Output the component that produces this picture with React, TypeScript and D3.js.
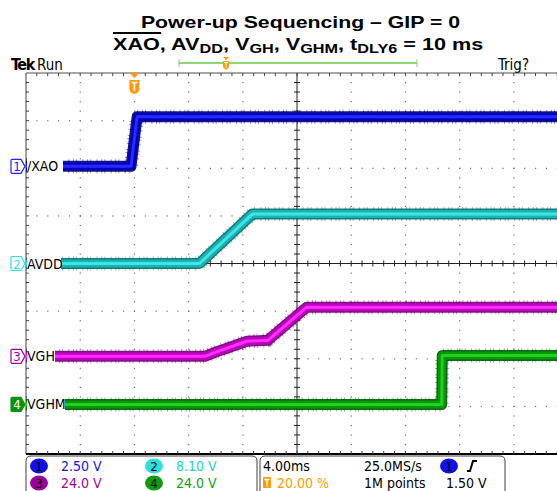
import React, { useLayoutEffect, useRef, useState } from "react";
import * as d3 from "d3";

// ---- data (time in ms, volts) ----
const xaoT = [-8, -0.25, 0.2, 32];
const xaoV = [0, 0, 2.6, 2.6];
const avddT = [-8, 4.8, 8.7, 32];
const avddV = [0, 0, 8.4, 8.4];
const vghT = [-8, 5.2, 5.95, 8.3, 9.85, 12.7, 32];
const vghV = [0, 0, 2.0, 7.6, 8.1, 24.7, 24.7];
const vghmT = [-8, 22.68, 22.72, 32];
const vghmV = [0, 0, 24.7, 24.7];

const chNames = ["/XAO", "AVDD", "VGH", "VGHM"];
const chVoltsPerDiv = [2.5, 8.1, 24.0, 24.0];
const chVoltsLabel = ["2.50 V", "8.10 V", "24.0 V", "24.0 V"];
const chOffsetDiv = [2.04, 0, -1.95, -2.96];

const timePerDiv = "4.00ms";
const sampleRate = "25.0MS/s";
const recordLen = "1M points";
const trigPos = "20.00 %";
const trigLevel = "1.50 V";

const L = 26, T = 73, DW = 54.2, DH = 47.625;
const W = 557, H = 491;

const colors = [
  { outer: "#00006e", mid: "#0000c0", inner: "#2a2aff", text: "#1414e6" },
  { outer: "#006e6e", mid: "#18b4b4", inner: "#40e6e6", text: "#20d0d0" },
  { outer: "#6e006e", mid: "#c000c0", inner: "#ff30ff", text: "#a000a0" },
  { outer: "#005500", mid: "#009a00", inner: "#20d020", text: "#10a010" },
];
const markerFill = ["#2020ff", "#30e0e0", "#a000a0", "#109010"];

export default function App() {
  const x = d3.scaleLinear().domain([-8, 32]).range([L, L + 10 * DW]);
  const y = d3.scaleLinear().domain([-4, 4]).range([T + 8 * DH, T]);
  const series = [
    [xaoT, xaoV],
    [avddT, avddV],
    [vghT, vghV],
    [vghmT, vghmV],
  ];
  const line = d3
    .line<[number, number]>()
    .x((d) => x(d[0]))
    .y((d) => y(d[1]));

  const textRef = useRef<SVGTextElement>(null);
  const [ov, setOv] = useState<[number, number] | null>(null);
  useLayoutEffect(() => {
    const t = textRef.current;
    if (t) {
      const p = t.getStartPositionOfChar(0).x;
      const w = t.getSubStringLength(0, 3);
      setOv([p, p + w]);
    }
  }, []);

  const xRight = L + 10 * DW;
  const yBottom = T + 8 * DH;
  const cx = L + 5 * DW;
  const cy = T + 4 * DH;

  // grid dots
  const dots: JSX.Element[] = [];
  for (let i = 1; i < 10; i++) {
    if (i === 5) continue;
    const gx = L + i * DW;
    for (let k = 1; k < 40; k++) {
      const gy = T + (k * DH) / 5;
      dots.push(<rect key={`v${i}-${k}`} x={gx - 0.5} y={gy - 0.5} width={1.2} height={1.2} fill="#707070" />);
    }
  }
  for (let j = 1; j < 8; j++) {
    if (j === 4) continue;
    const gy = T + j * DH;
    for (let k = 1; k < 50; k++) {
      const gx = L + (k * DW) / 5;
      dots.push(<rect key={`h${j}-${k}`} x={gx - 0.5} y={gy - 0.5} width={1.2} height={1.2} fill="#707070" />);
    }
  }
  const ticks: JSX.Element[] = [];
  for (let k = 1; k < 50; k++) {
    const gx = L + (k * DW) / 5;
    ticks.push(<line key={`tt${k}`} x1={gx} x2={gx} y1={T} y2={T + 3} stroke="#404040" strokeWidth={1} />);
    ticks.push(<line key={`tb${k}`} x1={gx} x2={gx} y1={yBottom} y2={yBottom - 3} stroke="#404040" strokeWidth={1} />);
    ticks.push(<line key={`tc${k}`} x1={gx} x2={gx} y1={cy - 3} y2={cy + 3} stroke="#202020" strokeWidth={1} />);
  }
  for (let k = 1; k < 40; k++) {
    const gy = T + (k * DH) / 5;
    ticks.push(<line key={`tl${k}`} x1={L} x2={L + 3} y1={gy} y2={gy} stroke="#404040" strokeWidth={1} />);
    ticks.push(<line key={`tv${k}`} x1={cx - 3} x2={cx + 3} y1={gy} y2={gy} stroke="#202020" strokeWidth={1} />);
  }

  const scopeFont = "'DejaVu Sans Condensed', 'DejaVu Sans', sans-serif";
  const titleFont = "'Liberation Sans', Arial, sans-serif";
  const SX = 1.23;
  const SX2 = 1.25;

  const trigX = x(0);

  return (
    <svg
      width={W}
      height={H}
      style={{ position: "fixed", left: 0, top: 0, background: "#fff" }}
      viewBox={`0 0 ${W} ${H}`}
    >
      <rect x={0} y={0} width={W} height={H} fill="#fff" />
      {/* Title (horizontally stretched like the source) */}
      <g transform={`translate(300.5,0) scale(${SX},1)`}>
        <text x={0} y={28} textAnchor="middle" fontFamily={titleFont} fontWeight="bold" fontSize={17.3} fill="#000">
          Power-up Sequencing – GIP = 0
        </text>
      </g>
      <g transform={`translate(113,0) scale(${SX2},1)`}>
        <text ref={textRef} x={0} y={50} fontFamily={titleFont} fontWeight="bold" fontSize={17.3} fill="#000">
          XAO, AV
          <tspan fontSize={13} dy={3}>DD</tspan>
          <tspan dy={-3}>, V</tspan>
          <tspan fontSize={13} dy={3}>GH</tspan>
          <tspan dy={-3}>, V</tspan>
          <tspan fontSize={13} dy={3}>GHM</tspan>
          <tspan dy={-3}>, t</tspan>
          <tspan fontSize={13} dy={3}>DLY6</tspan>
          <tspan dy={-3}> = 10 ms</tspan>
        </text>
        {ov && <line x1={ov[0]} x2={ov[1] + 1} y1={33} y2={33} stroke="#000" strokeWidth={2} />}
      </g>

      {/* Header */}
      <text x={11} y={70} fontFamily={scopeFont} fontSize={16} fontWeight="bold" letterSpacing={-1.4} fill="#000">
        Tek
      </text>
      <text x={37} y={70} fontFamily={scopeFont} fontSize={15} fill="#000">
        Run
      </text>
      <text x={498} y={70} fontFamily={scopeFont} fontSize={15} fill="#000">
        Trig?
      </text>
      <line x1={179} x2={417} y1={63} y2={63} stroke="#66cc44" strokeWidth={1.5} />
      <line x1={179} x2={179} y1={59} y2={67} stroke="#b0b0b0" strokeWidth={1} />
      <line x1={417} x2={417} y1={59} y2={67} stroke="#b0b0b0" strokeWidth={1} />
      <g transform="translate(226,57)">
        <path d="M-3,0 L3,0 L0,3 Z" fill="#ff9a00" />
        <path d="M-3,4 H3 V10 L0,13 L-3,10 Z" fill="#ff9a00" />
        <path d="M-2,5.5 H2 M0,5.5 V10.5" stroke="#fff" strokeWidth={1} />
      </g>

      {/* Graticule */}
      {dots}
      <line x1={L} x2={xRight} y1={T} y2={T} stroke="#505050" strokeWidth={1.2} />
      <line x1={L} x2={L} y1={T} y2={yBottom} stroke="#606060" strokeWidth={1.2} />
      <line x1={L} x2={xRight} y1={yBottom} y2={yBottom} stroke="#000" strokeWidth={2} />
      <line x1={cx} x2={cx} y1={T} y2={yBottom} stroke="#202020" strokeWidth={1} />
      <line x1={L} x2={xRight} y1={cy} y2={cy} stroke="#202020" strokeWidth={1} />
      {ticks}

      {/* Trigger position marker */}
      <g transform={`translate(${trigX},${T})`}>
        <path d="M-5,0 L5,0 L0,5 Z" fill="#ff9a00" />
        <path d="M-5,7 H5 V16 Q5,20 0,21 Q-5,20 -5,16 Z" fill="#ff9a00" />
        <path d="M-3,9.5 H3 M0,9.5 V18" stroke="#fff" strokeWidth={1.6} />
      </g>

      {/* Traces */}
      {series.map(([ts, vs], i) => {
        const pts: [number, number][] = ts.map((t, k) => [t, chOffsetDiv[i] + vs[k] / chVoltsPerDiv[i]]);
        const d = line(pts) || "";
        const c = colors[i];
        return (
          <g key={`tr${i}`} strokeLinejoin="round" fill="none">
            <path d={d} stroke={c.outer} strokeWidth={14} strokeDasharray="1 3.7 1 2.1 1 5.3" opacity={0.45} />
            <path d={d} stroke={c.outer} strokeWidth={11} opacity={0.9} />
            <path d={d} stroke={c.mid} strokeWidth={8} />
            <path d={d} stroke={c.inner} strokeWidth={3} />
          </g>
        );
      })}

      {/* Channel labels and ground markers */}
      {chNames.map((n, i) => {
        const gy = y(chOffsetDiv[i]);
        const widths = [36, 34, 28, 38];
        return (
          <g key={`lb${i}`}>
            <rect x={L + 1} y={gy - 9} width={widths[i]} height={18} fill="#fff" />
            <text x={L + 1} y={gy + 5} fontFamily={scopeFont} fontSize={14} fill="#000">
              {n}
            </text>
            <path
              d={`M12,${gy - 7} H21 L25,${gy} L21,${gy + 7} H12 Q11,${gy + 7} 11,${gy + 6} V${gy - 6} Q11,${gy - 7} 12,${gy - 7} Z`}
              fill={i === 3 ? markerFill[3] : "#fff"}
              stroke={markerFill[i]}
              strokeWidth={1.2}
            />
            <text
              x={17}
              y={gy + 5}
              textAnchor="middle"
              fontFamily={scopeFont}
              fontSize={13}
              fill={i === 3 ? "#fff" : markerFill[i]}
            >
              {i + 1}
            </text>
          </g>
        );
      })}

      {/* Status bar */}
      <path d={`M26,${H + 5} V461 Q26,456 31,456 H252 Q257,456 257,461 V${H + 5}`} fill="none" stroke="#404040" strokeWidth={1} />
      <path d={`M260,${H + 5} V461 Q260,456 265,456 H500 Q505,456 505,461 V${H + 5}`} fill="none" stroke="#404040" strokeWidth={1} />
      {chVoltsLabel.map((v, i) => {
        const col = i % 2;
        const row = Math.floor(i / 2);
        const ccx = col === 0 ? 39 : 154;
        const ccy = row === 0 ? 466 : 483;
        const fills = ["#1010ee", "#30dede", "#990099", "#109a10"];
        return (
          <g key={`st${i}`}>
            <ellipse cx={ccx} cy={ccy} rx={9} ry={7.5} fill={fills[i]} />
            <text x={ccx} y={ccy + 5} textAnchor="middle" fontFamily={scopeFont} fontSize={13} fill="#000">
              {i + 1}
            </text>
            <text x={ccx + 22} y={ccy + 5} fontFamily={scopeFont} fontSize={14} fill={colors[i].text}>
              {v}
            </text>
          </g>
        );
      })}
      <text x={263} y={471} fontFamily={scopeFont} fontSize={14} fill="#000">{timePerDiv}</text>
      <text x={364} y={471} fontFamily={scopeFont} fontSize={14} fill="#000">{sampleRate}</text>
      <text x={364} y={488} fontFamily={scopeFont} fontSize={14} fill="#000">{recordLen}</text>
      <text x={446} y={488} fontFamily={scopeFont} fontSize={14} fill="#000">{trigLevel}</text>
      <rect x={263} y={477} width={8} height={11} rx={1} fill="#ff9a00" />
      <path d="M264.5,479.5 H269.5 M267,479.5 V486.5" stroke="#fff" strokeWidth={1.5} />
      <text x={277} y={488} fontFamily={scopeFont} fontSize={14} fill="#ff9a00">{trigPos}</text>
      <ellipse cx={449} cy={466} rx={9} ry={7.5} fill="#1010ee" />
      <text x={449} y={471} textAnchor="middle" fontFamily={scopeFont} fontSize={13} fill="#000">1</text>
      <path d="M467,471 H470 L473,461 H477" fill="none" stroke="#000" strokeWidth={2} />
    </svg>
  );
}
